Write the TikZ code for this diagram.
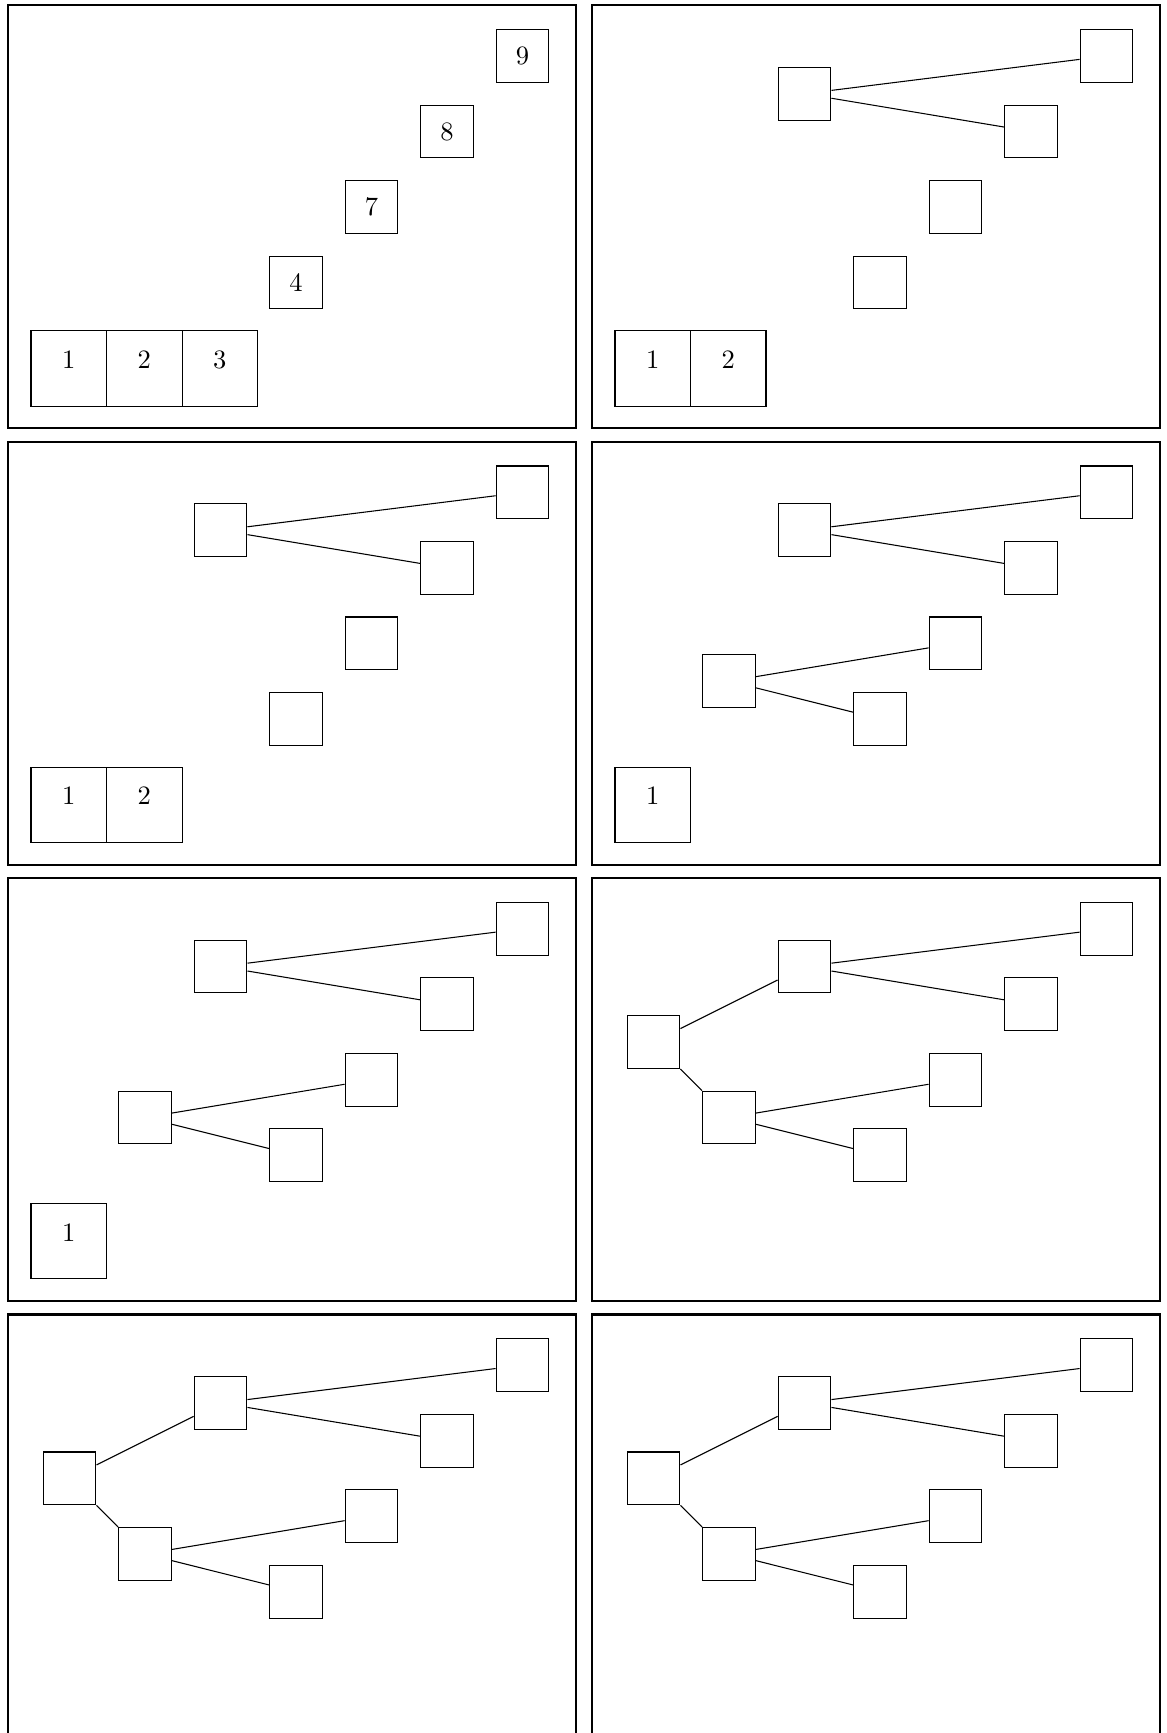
\documentclass[tikz,border=0pt]{standalone}
\tikzset{
  frm/.style={draw, line width=0.8pt},
  nbox/.style={draw, line width=0.4pt, minimum size=0.7cm, inner sep=0pt},
  cellbox/.style={draw, line width=0.4pt, minimum size=1cm, inner sep=0pt},
  celltext/.style={anchor=base, inner sep=0pt},
  conn/.style={line width=0.4pt},
}
\newcommand\pframe{\draw[frm] (0,0) rectangle (7.52,5.603);}
\newcommand\leafset[5]{%
  \node[nbox] (#1l1) at (6.815,0.672) {#2};
  \node[nbox] (#1l2) at (5.815,1.672) {#3};
  \node[nbox] (#1l3) at (4.815,2.672) {#4};
  \node[nbox] (#1l4) at (3.815,3.672) {#5};
}
\newcommand\cellk[3]{% prefix, index, x-center
  \node[cellbox] (#1c#2) at (#3,4.81) {};
  \node[celltext] (#1t#2) at (#1c#2.center) {#2};
}
\newcommand\pone[1]{%
  \node[nbox] (#1p1) at (2.815,1.172) {};
  \draw[conn] (#1p1) -- (#1l1);
  \draw[conn] (#1p1) -- (#1l2);
}
\newcommand\ptwo[1]{%
  \node[nbox] (#1p2) at (1.815,3.172) {};
  \draw[conn] (#1p2) -- (#1l3);
  \draw[conn] (#1p2) -- (#1l4);
}
\newcommand\proot[1]{%
  \node[nbox] (#1r) at (0.815,2.172) {};
  \draw[conn] (#1r) -- (#1p1);
  \draw[conn] (#1r) -- (#1p2);
}
\begin{document}
\begin{tikzpicture}[x=1cm, y=-1cm]
\useasboundingbox (-0.106,-0.070) rectangle (15.351,22.884);
% panel A
\begin{scope}[shift={(0,0)}]
  \pframe
  \leafset{a}{9}{8}{7}{4}
  \cellk{a}{1}{0.805}\cellk{a}{2}{1.805}\cellk{a}{3}{2.805}
\end{scope}
% panel B (r1c2)
\begin{scope}[shift={(7.735,0)}]
  \pframe
  \leafset{b}{}{}{}{}
  \pone{b}
  \cellk{b}{1}{0.805}\cellk{b}{2}{1.805}
\end{scope}
% panel C (r2c1)
\begin{scope}[shift={(0,5.78)}]
  \pframe
  \leafset{c}{}{}{}{}
  \pone{c}
  \cellk{c}{1}{0.805}\cellk{c}{2}{1.805}
\end{scope}
% panel D (r2c2)
\begin{scope}[shift={(7.735,5.78)}]
  \pframe
  \leafset{d}{}{}{}{}
  \pone{d}\ptwo{d}
  \cellk{d}{1}{0.805}
\end{scope}
% panel E (r3c1)
\begin{scope}[shift={(0,11.56)}]
  \pframe
  \leafset{e}{}{}{}{}
  \pone{e}\ptwo{e}
  \cellk{e}{1}{0.805}
\end{scope}
% panel F (r3c2)
\begin{scope}[shift={(7.735,11.56)}]
  \pframe
  \leafset{f}{}{}{}{}
  \pone{f}\ptwo{f}\proot{f}
\end{scope}
% panel G (r4c1)
\begin{scope}[shift={(0,17.34)}]
  \pframe
  \leafset{g}{}{}{}{}
  \pone{g}\ptwo{g}\proot{g}
\end{scope}
% panel H (r4c2)
\begin{scope}[shift={(7.735,17.34)}]
  \pframe
  \leafset{h}{}{}{}{}
  \pone{h}\ptwo{h}\proot{h}
\end{scope}
\end{tikzpicture}
\end{document}
